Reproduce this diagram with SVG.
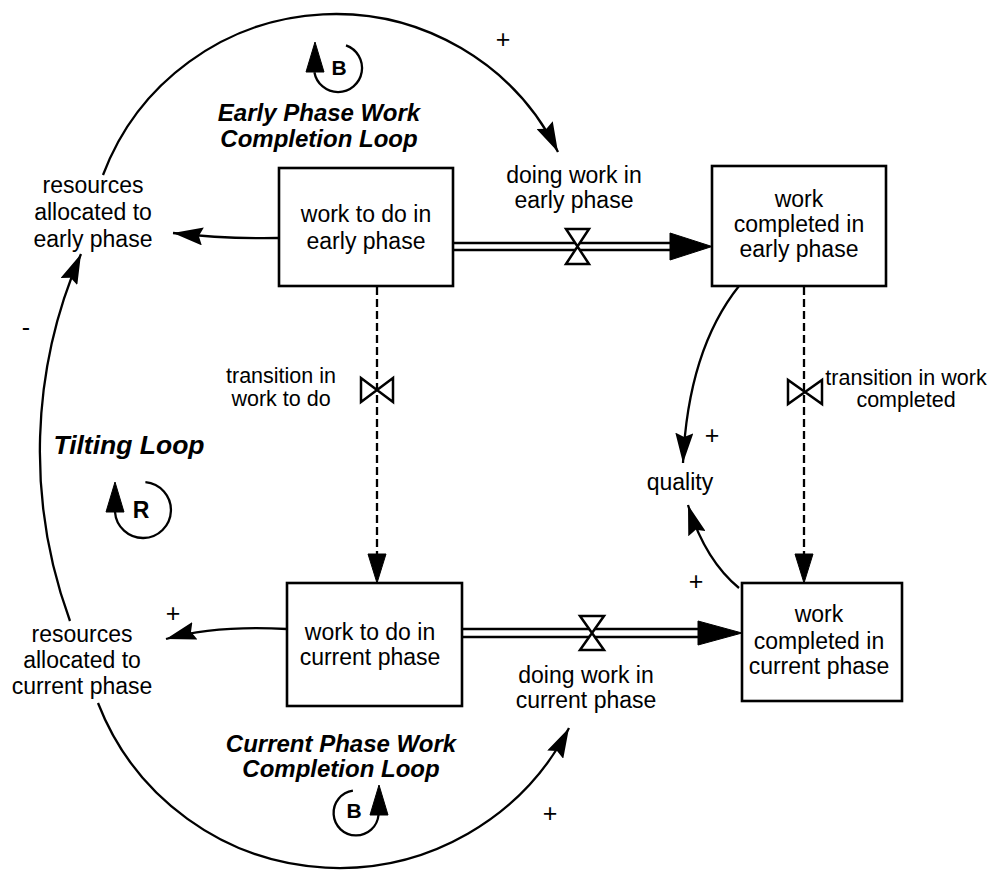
<svg xmlns="http://www.w3.org/2000/svg" width="995" height="870" viewBox="0 0 995 870">
<defs>
<style>
.t{font-family:"Liberation Sans",Arial,Helvetica,sans-serif;font-size:23px;fill:#000;text-anchor:middle}
.s{font-size:21.5px}
.bi{font-weight:bold;font-style:italic;font-size:24px}
.b{font-weight:bold;font-size:21px}
.sign{font-size:25px}
.box{fill:#fff;stroke:#000;stroke-width:2.6}
.link{fill:none;stroke:#000;stroke-width:2.3}
.pipe{fill:none;stroke:#000;stroke-width:2.5}
.dash{fill:none;stroke:#000;stroke-width:2.3;stroke-dasharray:8 4}
.valve{fill:#fff;stroke:#000;stroke-width:2.5;stroke-linejoin:miter}
.head{fill:#000;stroke:#000;stroke-width:1}
</style>
<marker id="arr" markerUnits="userSpaceOnUse" viewBox="0 0 30 18" refX="30" refY="9" markerWidth="30" markerHeight="18" orient="auto">
<path d="M0,0 L30,9 L0,18 L4,9 z" fill="#000"/>
</marker>
</defs>
<rect width="995" height="870" fill="#fff"/>

<g id="connectors">
<!-- information links -->
<path class="link" d="M 278 238 Q 225 239 173 233" marker-end="url(#arr)"/>
<path class="link" d="M 287 629 Q 215 625 166 639" marker-end="url(#arr)"/>
<path class="link" d="M 739 286 Q 688 350 683 463" marker-end="url(#arr)"/>
<path class="link" d="M 739 588 Q 705 560 688 505" marker-end="url(#arr)"/>
<path class="link" d="M 103 175 A 248.4 248.4 0 0 1 558 152" marker-end="url(#arr)"/>
<path class="link" d="M 70 621 A 493.5 493.5 0 0 1 81 254" marker-end="url(#arr)"/>
<path class="link" d="M 98 703 A 258.7 258.7 0 0 0 569 728" marker-end="url(#arr)"/>
<!-- flow: doing work in early phase -->
<line class="pipe" x1="453" y1="243" x2="680" y2="243"/>
<line class="pipe" x1="453" y1="250" x2="680" y2="250"/>
<path class="head" d="M 670 233 L 712 246.5 L 670 260 z"/>
<!-- flow: doing work in current phase -->
<line class="pipe" x1="462" y1="629" x2="705" y2="629"/>
<line class="pipe" x1="462" y1="637" x2="705" y2="637"/>
<path class="head" d="M 698 621 L 742 633 L 698 645 z"/>
<!-- flow: transition in work to do -->
<line class="dash" x1="377" y1="287" x2="377" y2="556"/>
<path class="head" d="M 368 554 L 386 554 L 377 583 z"/>
<!-- flow: transition in work completed -->
<line class="dash" x1="804" y1="287" x2="804" y2="556"/>
<path class="head" d="M 795 554 L 813 554 L 804 583 z"/>
</g>

<g id="valve-doing-early">
<path class="valve" d="M 566 229 L 589 229 L 577.5 246.5 z M 566 264 L 589 264 L 577.5 246.5 z"/>
</g>
<g id="valve-doing-current">
<path class="valve" d="M 580 616 L 604 616 L 592 633 z M 580 650 L 604 650 L 592 633 z"/>
</g>
<g id="valve-transition-todo">
<path class="valve" d="M 361 378 L 361 402 L 377 390 z M 393 378 L 393 402 L 377 390 z"/>
</g>
<g id="valve-transition-completed">
<path class="valve" d="M 788 380 L 788 404 L 805 392 z M 822 380 L 822 404 L 805 392 z"/>
</g>

<g id="work-to-do-early">
<rect class="box" x="279" y="168" width="174" height="118"/>
<text class="t" x="366" y="222">work to do in</text>
<text class="t" x="366" y="249">early phase</text>
</g>
<g id="work-completed-early">
<rect class="box" x="712" y="166" width="174" height="120"/>
<text class="t" x="799" y="207">work</text>
<text class="t" x="799" y="232">completed in</text>
<text class="t" x="799" y="257">early phase</text>
</g>
<g id="work-to-do-current">
<rect class="box" x="287" y="583" width="175" height="123"/>
<text class="t" x="370" y="640">work to do in</text>
<text class="t" x="370" y="665">current phase</text>
</g>
<g id="work-completed-current">
<rect class="box" x="742" y="583" width="160" height="118"/>
<text class="t" x="819" y="622">work</text>
<text class="t" x="819" y="649">completed in</text>
<text class="t" x="819" y="674">current phase</text>
</g>

<g id="doing-work-early-label">
<text class="t" x="574" y="183">doing work in</text>
<text class="t" x="574" y="208">early phase</text>
</g>
<g id="doing-work-current-label">
<text class="t" x="586" y="683">doing work in</text>
<text class="t" x="586" y="708">current phase</text>
</g>
<g id="transition-todo-label">
<text class="t s" x="281" y="383">transition in</text>
<text class="t s" x="281" y="406">work to do</text>
</g>
<g id="transition-completed-label">
<text class="t s" x="906" y="385">transition in work</text>
<text class="t s" x="906" y="407">completed</text>
</g>
<g id="resources-early">
<text class="t" x="93" y="193">resources</text>
<text class="t" x="93" y="220">allocated to</text>
<text class="t" x="93" y="247">early phase</text>
</g>
<g id="resources-current">
<text class="t" x="82" y="642">resources</text>
<text class="t" x="82" y="668">allocated to</text>
<text class="t" x="82" y="694">current phase</text>
</g>
<g id="quality">
<text class="t" x="680" y="490">quality</text>
</g>

<g id="loop-early">
<path class="link" d="M 314.4 72.2 A 24 24 0 1 0 346 45.4"/>
<path class="head" d="M 306 72 L 315 42 L 324 72 z"/>
<text class="t b" x="339" y="75">B</text>
<text class="t bi" x="319" y="121">Early Phase Work</text>
<text class="t bi" x="319" y="147">Completion Loop</text>
</g>
<g id="loop-current">
<path class="link" d="M 378.5 815 A 22.5 22.5 0 1 1 352.9 790.7"/>
<path class="head" d="M 370 815 L 379 785 L 388 815 z"/>
<text class="t b" x="354" y="818">B</text>
<text class="t bi" x="341" y="752">Current Phase Work</text>
<text class="t bi" x="341" y="777">Completion Loop</text>
</g>
<g id="loop-tilting">
<path class="link" d="M 115 512 A 28 28 0 1 0 145.4 482.1"/>
<path class="head" d="M 106 512 L 115 482 L 124 512 z"/>
<text class="t b" x="141" y="518" style="font-size:23px">R</text>
<text class="t bi" x="129" y="454" style="font-size:26.5px">Tilting Loop</text>
</g>

<g id="polarities">
<text class="t sign" x="503" y="48">+</text>
<text class="t sign" x="712" y="444">+</text>
<text class="t sign" x="696" y="590">+</text>
<text class="t sign" x="173" y="622">+</text>
<text class="t sign" x="550" y="822">+</text>
<text class="t sign" x="26" y="336">-</text>
</g>
</svg>
